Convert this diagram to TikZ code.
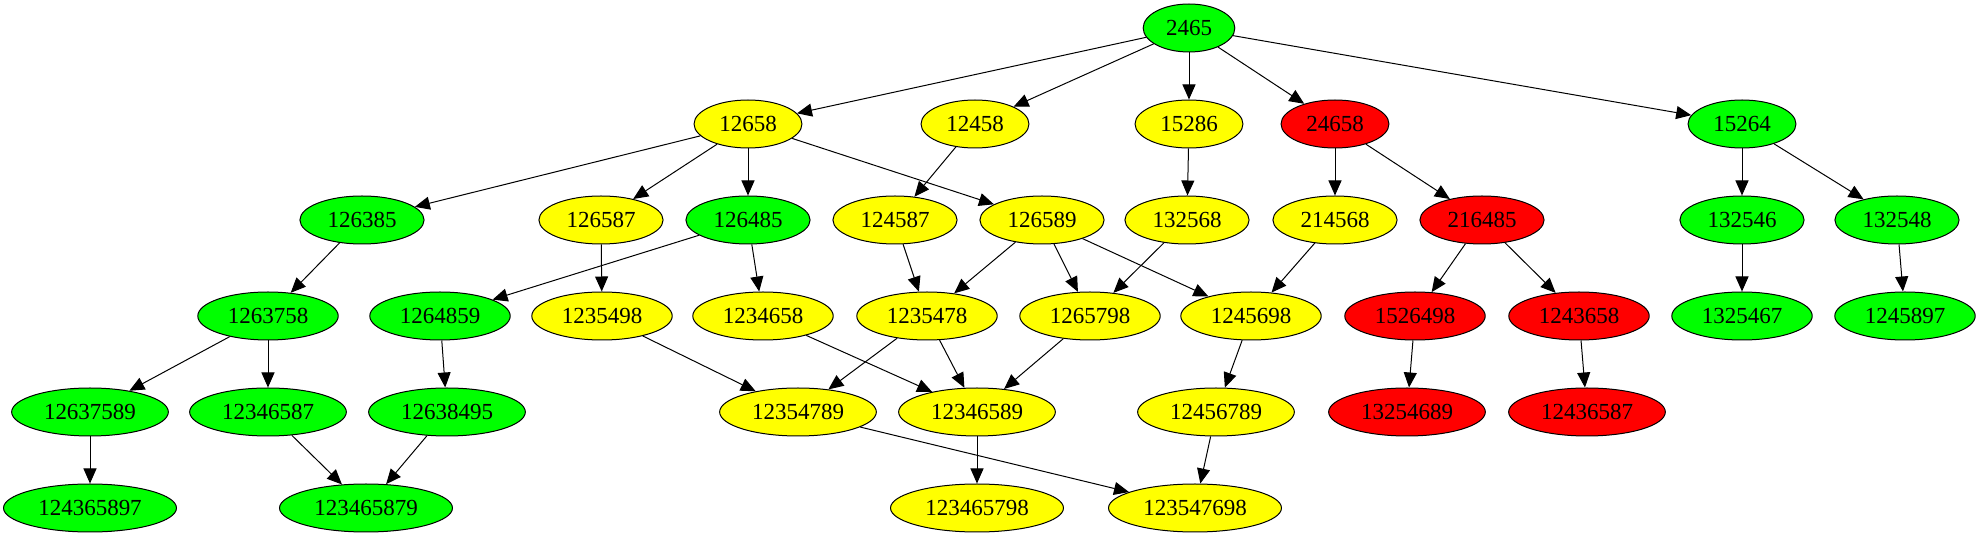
\documentclass[tikz,border=0pt]{standalone}
\usepackage{fontspec}
\setmainfont{Liberation Serif}
\usetikzlibrary{shapes.geometric,arrows.meta}

\begin{document}
\begin{tikzpicture}[x=0.5pt,y=-0.5pt,
        gnode/.style={ellipse,draw,line width=0.5pt,inner xsep=4.7pt,inner ysep=2pt,minimum height=24pt,font=\fontsize{11.5}{13}\selectfont},
        grn/.style={gnode,fill={rgb,255:red,0;green,255;blue,0}},
        ylw/.style={gnode,fill={rgb,255:red,255;green,255;blue,0}},
        rd/.style={gnode,fill={rgb,255:red,255;green,0;blue,0}},
        every edge/.style={draw,line width=0.5pt,-{Triangle[length=7.5pt,width=6.5pt]}}]
        \useasboundingbox (0,0) rectangle (1978,539);
        % row 1
        \node[grn] (n2465) at (1189,28) {2465};
        % row 2
        \node[ylw] (n12658) at (748,124) {12658};
        \node[ylw] (n12458) at (975,124) {12458};
        \node[ylw] (n15286) at (1189,124) {15286};
        \node[rd] (n24658) at (1335,124) {24658};
        \node[grn] (n15264) at (1742,124) {15264};
        % row 3
        \node[grn] (n126385) at (362,220) {126385};
        \node[ylw] (n126587) at (601,220) {126587};
        \node[grn] (n126485) at (748,220) {126485};
        \node[ylw] (n124587) at (895,220) {124587};
        \node[ylw] (n126589) at (1042,220) {126589};
        \node[ylw] (n132568) at (1187,220) {132568};
        \node[ylw] (n214568) at (1335,220) {214568};
        \node[rd] (n216485) at (1482,220) {216485};
        \node[grn] (n132546) at (1742,220) {132546};
        \node[grn] (n132548) at (1897,220) {132548};
        % row 4
        \node[grn] (n1263758) at (268,316) {1263758};
        \node[grn] (n1264859) at (440,316) {1264859};
        \node[ylw] (n1235498) at (602,316) {1235498};
        \node[ylw] (n1234658) at (763,316) {1234658};
        \node[ylw] (n1235478) at (927,316) {1235478};
        \node[ylw] (n1265798) at (1090,316) {1265798};
        \node[ylw] (n1245698) at (1251,316) {1245698};
        \node[rd] (n1526498) at (1415,316) {1526498};
        \node[rd] (n1243658) at (1579,316) {1243658};
        \node[grn] (n1325467) at (1742,316) {1325467};
        \node[grn] (n1245897) at (1905,316) {1245897};
        % row 5
        \node[grn] (n12637589) at (90,412) {12637589};
        \node[grn] (n12346587) at (268,412) {12346587};
        \node[grn] (n12638495) at (447,412) {12638495};
        \node[ylw] (n12354789) at (798,412) {12354789};
        \node[ylw] (n12346589) at (977,412) {12346589};
        \node[ylw] (n12456789) at (1216,412) {12456789};
        \node[rd] (n13254689) at (1407,412) {13254689};
        \node[rd] (n12436587) at (1587,412) {12436587};
        % row 6
        \node[grn] (n124365897) at (90,508) {124365897};
        \node[grn] (n123465879) at (366,508) {123465879};
        \node[ylw] (n123465798) at (977,508) {123465798};
        \node[ylw] (n123547698) at (1195,508) {123547698};
        % edges
        \draw (n2465) edge (n12658) (n2465) edge (n12458) (n2465) edge (n15286)
              (n2465) edge (n24658) (n2465) edge (n15264);
        \draw (n12658) edge (n126385) (n12658) edge (n126587) (n12658) edge (n126485)
              (n12658) edge (n126589);
        \draw (n12458) edge (n124587);
        \draw (n15286) edge (n132568);
        \draw (n24658) edge (n214568) (n24658) edge (n216485);
        \draw (n15264) edge (n132546) (n15264) edge (n132548);
        \draw (n126385) edge (n1263758);
        \draw (n126587) edge (n1235498);
        \draw (n126485) edge (n1264859) (n126485) edge (n1234658);
        \draw (n124587) edge (n1235478);
        \draw (n126589) edge (n1235478) (n126589) edge (n1265798) (n126589) edge (n1245698);
        \draw (n132568) edge (n1265798);
        \draw (n214568) edge (n1245698);
        \draw (n216485) edge (n1526498) (n216485) edge (n1243658);
        \draw (n132546) edge (n1325467);
        \draw (n132548) edge (n1245897);
        \draw (n1263758) edge (n12637589) (n1263758) edge (n12346587);
        \draw (n1264859) edge (n12638495);
        \draw (n1235498) edge (n12354789);
        \draw (n1234658) edge (n12346589);
        \draw (n1235478) edge (n12354789) (n1235478) edge (n12346589);
        \draw (n1265798) edge (n12346589);
        \draw (n1245698) edge (n12456789);
        \draw (n1526498) edge (n13254689);
        \draw (n1243658) edge (n12436587);
        \draw (n12637589) edge (n124365897);
        \draw (n12346587) edge (n123465879);
        \draw (n12638495) edge (n123465879);
        \draw (n12354789) edge (n123547698);
        \draw (n12346589) edge (n123465798);
        \draw (n12456789) edge (n123547698);
\end{tikzpicture}
\end{document}
